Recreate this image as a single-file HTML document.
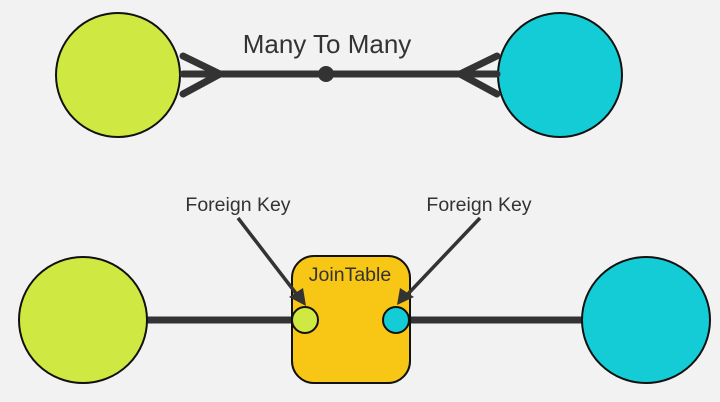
<!DOCTYPE html>
<html><head><style>html,body{margin:0;padding:0;background:#f2f2f2;}svg{display:block}</style></head>
<body>
<svg width="720" height="402" viewBox="0 0 720 402" xmlns="http://www.w3.org/2000/svg">
<rect width="720" height="402" fill="#f2f2f2"/>
<circle cx="118" cy="75" r="62" fill="#d0e842" stroke="#111" stroke-width="2"/>
<circle cx="560" cy="75" r="62" fill="#14ccd6" stroke="#111" stroke-width="2"/>
<g stroke="#333" stroke-width="7" stroke-linecap="round" fill="none">
<line x1="183" y1="74" x2="497" y2="74"/>
<polyline points="183,56 220,74 183,94"/>
<polyline points="497,56 460,74 497,94"/>
</g>
<circle cx="326" cy="74" r="8" fill="#333"/>
<text x="327" y="53" font-family="Liberation Sans, sans-serif" font-size="26" fill="#333" text-anchor="middle">Many To Many</text>
<g stroke="#333" stroke-width="7">
<line x1="146" y1="320" x2="294" y2="320"/>
<line x1="408" y1="320" x2="584" y2="320"/>
</g>
<ellipse cx="83" cy="320" rx="64" ry="63" fill="#d0e842" stroke="#111" stroke-width="2"/>
<ellipse cx="646" cy="320" rx="64" ry="63" fill="#14ccd6" stroke="#111" stroke-width="2"/>
<rect x="292" y="256" width="118" height="127" rx="22" fill="#f8c614" stroke="#111" stroke-width="2"/>
<text x="350" y="281" font-family="Liberation Sans, sans-serif" font-size="19.5" fill="#333" text-anchor="middle">JoinTable</text>
<circle cx="305" cy="320" r="13" fill="#d0e842" stroke="#111" stroke-width="2"/>
<circle cx="396" cy="320" r="13" fill="#14ccd6" stroke="#111" stroke-width="2"/>
<g stroke="#333" stroke-width="3.5">
<line x1="238" y1="218" x2="298" y2="296"/>
<line x1="480" y1="218" x2="406" y2="296"/>
</g>
<polygon points="289,297 306,306 303,288" fill="#333"/>
<polygon points="397,305 414,297 400,288" fill="#333"/>
<text x="238" y="211" font-family="Liberation Sans, sans-serif" font-size="19.5" fill="#333" text-anchor="middle">Foreign Key</text>
<text x="479" y="211" font-family="Liberation Sans, sans-serif" font-size="19.5" fill="#333" text-anchor="middle">Foreign Key</text>
</svg>
</body></html>
